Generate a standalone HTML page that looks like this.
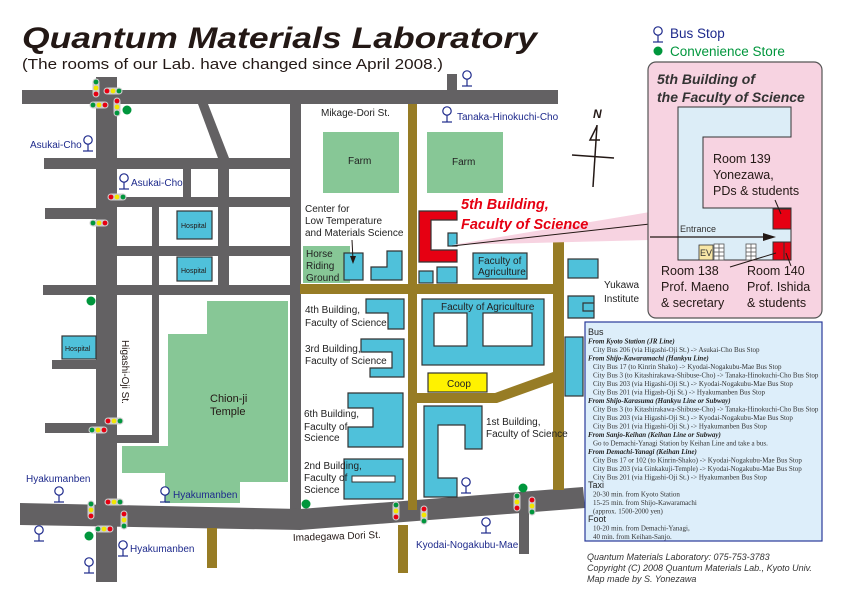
<!DOCTYPE html>
<html><head><meta charset="utf-8"><style>
html,body{margin:0;padding:0;background:#fff}
svg{display:block}
text{font-family:"Liberation Sans",sans-serif}
.s{font-family:"Liberation Serif",serif;font-size:7px;fill:#333}
.si{font-family:"Liberation Serif",serif;font-size:7px;font-style:italic;font-weight:bold;fill:#222}
.l{font-size:10px;fill:#222}
.b{fill:#4fc1da;stroke:#333;stroke-width:1.2}
.bl{fill:#1e2a8c;font-size:10px}
</style></head><body>
<svg width="841" height="602" viewBox="0 0 841 602" xmlns="http://www.w3.org/2000/svg">
<defs>
<g id="bs"><circle cx="0" cy="0" r="4.2" fill="#fff" stroke="#1e2a8c" stroke-width="1.2"/><line x1="0" y1="4" x2="0" y2="11" stroke="#1e2a8c" stroke-width="1.2"/><line x1="-5" y1="11" x2="5" y2="11" stroke="#1e2a8c" stroke-width="1.2"/></g>
<g id="hR"><rect x="-3.5" y="-3.5" width="19" height="7" rx="3.5" fill="#ccc"/><circle cx="0" cy="0" r="2.4" fill="#e60012"/><circle cx="6" cy="0" r="2.4" fill="#f2e600"/><circle cx="12" cy="0" r="2.4" fill="#00963c"/></g>
<g id="hG"><rect x="-3.5" y="-3.5" width="19" height="7" rx="3.5" fill="#ccc"/><circle cx="0" cy="0" r="2.4" fill="#00963c"/><circle cx="6" cy="0" r="2.4" fill="#f2e600"/><circle cx="12" cy="0" r="2.4" fill="#e60012"/></g>
<g id="vG"><rect x="-3.5" y="-3.5" width="7" height="19" rx="3.5" fill="#ccc"/><circle cx="0" cy="0" r="2.4" fill="#00963c"/><circle cx="0" cy="6" r="2.4" fill="#f2e600"/><circle cx="0" cy="12" r="2.4" fill="#e60012"/></g>
<g id="vR"><rect x="-3.5" y="-3.5" width="7" height="19" rx="3.5" fill="#ccc"/><circle cx="0" cy="0" r="2.4" fill="#e60012"/><circle cx="0" cy="6" r="2.4" fill="#f2e600"/><circle cx="0" cy="12" r="2.4" fill="#00963c"/></g>
</defs>

<!-- title -->
<text x="22" y="48" font-size="30" font-weight="bold" font-style="italic" fill="#231815" textLength="515" lengthAdjust="spacingAndGlyphs">Quantum Materials Laboratory</text>
<text x="22" y="69" font-size="14.5" fill="#231815" textLength="421" lengthAdjust="spacingAndGlyphs">(The rooms of our Lab. have changed since April 2008.)</text>

<!-- legend -->
<use href="#bs" x="658" y="31"/>
<text x="670" y="38" font-size="13.5" fill="#1e2a8c">Bus Stop</text>
<circle cx="658" cy="51" r="4.5" fill="#00963c"/>
<text x="670" y="56" font-size="13.5" fill="#00963c">Convenience Store</text>

<!-- green areas -->
<g fill="#87c796">
<rect x="323" y="132" width="76" height="61"/>
<rect x="427" y="132" width="76" height="61"/>
<rect x="303" y="246" width="47" height="37"/>
<polygon points="207,301 288,301 288,482 240,482 240,503 165,503 165,473 122,473 122,446 168,446 168,334 207,334"/>
</g>

<!-- gray roads -->
<g fill="#636163">
<rect x="22" y="90" width="536" height="14"/>
<rect x="447" y="74" width="10" height="17"/>
<rect x="96" y="77" width="21" height="505"/>
<rect x="290" y="91" width="11" height="420"/>
<rect x="44" y="158" width="256" height="11"/>
<rect x="45" y="208" width="52" height="11"/>
<rect x="117" y="197" width="173" height="10"/>
<rect x="117" y="246" width="173" height="10"/>
<rect x="43" y="285" width="247" height="10"/>
<rect x="152" y="197" width="7" height="246"/>
<rect x="117" y="435" width="42" height="8"/>
<rect x="183" y="169" width="8" height="28"/>
<polygon points="198,104 208,104 229,158 218,158"/>
<rect x="218" y="158" width="11" height="137"/>
<rect x="52" y="360" width="45" height="9"/>
<rect x="45" y="423" width="52" height="10"/>
<polygon points="20,503 300,509 583,487 585,508 300,530 20,525"/>
<rect x="519" y="495" width="10" height="59"/>
</g>

<!-- brown roads -->
<g fill="#977c25">
<rect x="408" y="104" width="9" height="406"/>
<rect x="398" y="525" width="10" height="48"/>
<rect x="300" y="284" width="264" height="10"/>
<polygon points="553,240 564,236 564,490 553,490"/>
<polygon points="417,393 495,393 553,372 553,383 497,403 417,403"/>
<rect x="207" y="528" width="10" height="40"/>
</g>

<!-- buildings -->
<rect class="b" x="177" y="211" width="35" height="28"/>
<rect class="b" x="177" y="257" width="35" height="24"/>
<rect class="b" x="62" y="336" width="34" height="23"/>
<rect class="b" x="344" y="253" width="19" height="27"/>
<polygon class="b" points="371,267 387,267 387,251 402,251 402,280 371,280"/>
<polygon points="419,211 457,211 457,220 431,220 431,250 457,250 457,262 419,262" fill="#e60012" stroke="#333" stroke-width="1.2"/>
<rect class="b" x="448" y="233" width="9" height="13"/>
<rect class="b" x="419" y="271" width="14" height="12"/>
<rect class="b" x="437" y="267" width="20" height="16"/>
<rect class="b" x="473" y="253" width="54" height="26"/>
<polygon class="b" points="366,299 404,299 404,329 388,329 388,313 366,313"/>
<polygon class="b" points="361,339 404,339 404,377 370,377 370,368 392,368 392,352 361,352"/>
<rect class="b" x="422" y="299" width="122" height="66"/>
<rect x="434" y="313" width="33" height="33" fill="#fff" stroke="#333" stroke-width="1.2"/>
<rect x="483" y="313" width="49" height="33" fill="#fff" stroke="#333" stroke-width="1.2"/>
<rect x="428" y="373" width="59" height="19" fill="#fff200" stroke="#333" stroke-width="1.2"/>
<polygon class="b" points="348,393 403,393 403,447 348,447 348,427 373,427 373,408 348,408"/>
<rect class="b" x="344" y="459" width="59" height="40"/>
<rect x="352" y="476" width="43" height="6" fill="#fff" stroke="#333" stroke-width="1"/>
<polygon class="b" points="424,406 482,406 482,449 465,449 465,425 438,425 438,478 457,478 457,497 424,497"/>
<rect class="b" x="568" y="259" width="30" height="19"/>
<polygon class="b" points="568,296 594,296 594,311 583,311 583,303 583,303 594,303 594,318 568,318"/>
<rect class="b" x="565" y="337" width="18" height="59"/>

<!-- callout wedge -->
<polygon points="452,245 650,212 650,240" fill="#f7d3e1"/>
<line x1="452" y1="246" x2="650" y2="224" stroke="#231815" stroke-width="1"/>

<!-- pink box -->
<rect x="648" y="62" width="174" height="256" rx="8" fill="#f7d3e1" stroke="#555" stroke-width="1.2"/>
<text x="657" y="84" font-size="14" font-weight="bold" font-style="italic" fill="#333">5th Building of</text>
<text x="657" y="102" font-size="14" font-weight="bold" font-style="italic" fill="#333">the Faculty of Science</text>
<polygon points="678,107 791,107 791,137 703,137 703,208 791,208 791,260 678,260" fill="#dcedf7" stroke="#333" stroke-width="1"/>
<rect x="773" y="209" width="18" height="20" fill="#e60012" stroke="#333"/>
<rect x="773" y="242" width="18" height="18" fill="#e60012" stroke="#333"/>
<line x1="784" y1="242" x2="784" y2="260" stroke="#333"/>
<rect x="699" y="245" width="14" height="15" fill="#f7e6a6" stroke="#333" stroke-width="0.8"/>
<text x="700" y="256" font-size="9" fill="#333">EV</text>
<g stroke="#555" stroke-width="0.8" fill="#fff">
<rect x="714" y="244" width="10" height="16"/><line x1="714" y1="248" x2="724" y2="248"/><line x1="714" y1="252" x2="724" y2="252"/><line x1="714" y1="256" x2="724" y2="256"/><line x1="719" y1="244" x2="719" y2="260"/>
<rect x="746" y="244" width="10" height="16"/><line x1="746" y1="248" x2="756" y2="248"/><line x1="746" y1="252" x2="756" y2="252"/><line x1="746" y1="256" x2="756" y2="256"/><line x1="751" y1="244" x2="751" y2="260"/>
</g>
<line x1="650" y1="237" x2="765" y2="237" stroke="#231815" stroke-width="1.2"/>
<polygon points="776,237 763,233 763,241" fill="#231815"/>
<text x="680" y="232" font-size="9" fill="#333">Entrance</text>
<text x="713" y="163" font-size="12.5" fill="#231815">Room 139</text>
<text x="713" y="179" font-size="12.5" fill="#231815">Yonezawa,</text>
<text x="713" y="195" font-size="12.5" fill="#231815">PDs &amp; students</text>
<text x="661" y="275" font-size="12.5" fill="#231815">Room 138</text>
<text x="661" y="291" font-size="12.5" fill="#231815">Prof. Maeno</text>
<text x="661" y="307" font-size="12.5" fill="#231815">&amp; secretary</text>
<text x="747" y="275" font-size="12.5" fill="#231815">Room 140</text>
<text x="747" y="291" font-size="12.5" fill="#231815">Prof. Ishida</text>
<text x="747" y="307" font-size="12.5" fill="#231815">&amp; students</text>
<g stroke="#231815" stroke-width="1">
<line x1="775" y1="200" x2="781" y2="214"/><line x1="730" y1="267" x2="776" y2="253"/><line x1="791" y1="266" x2="786" y2="253"/>
</g>

<!-- info box -->
<rect x="585" y="322" width="237" height="219" fill="#ddeefa" stroke="#2a3a9a" stroke-width="1.2"/>
<text x="588" y="335" font-size="9" fill="#222">Bus</text>
<text class="si" x="588" y="343.5">From Kyoto Station (JR Line)</text>
<text class="s" x="593" y="352">City Bus 206 (via Higashi-Oji St.) -&gt; Asukai-Cho Bus Stop</text>
<text class="si" x="588" y="360.5">From Shijo-Kawaramachi (Hankyu Line)</text>
<text class="s" x="593" y="369">City Bus 17 (to Kinrin Shako) -&gt; Kyodai-Nogakubu-Mae Bus Stop</text>
<text class="s" x="593" y="377.5">City Bus 3 (to Kitashirakawa-Shibuse-Cho) -&gt; Tanaka-Hinokuchi-Cho Bus Stop</text>
<text class="s" x="593" y="386">City Bus 203 (via Higashi-Oji St.) -&gt; Kyodai-Nogakubu-Mae Bus Stop</text>
<text class="s" x="593" y="394.5">City Bus 201 (via Higash-Oji St.) -&gt; Hyakumanben Bus Stop</text>
<text class="si" x="588" y="403">From Shijo-Karasuma (Hankyu Line or Subway)</text>
<text class="s" x="593" y="411.5">City Bus 3 (to Kitashirakawa-Shibuse-Cho) -&gt; Tanaka-Hinokuchi-Cho Bus Stop</text>
<text class="s" x="593" y="420">City Bus 203 (via Higashi-Oji St.) -&gt; Kyodai-Nogakubu-Mae Bus Stop</text>
<text class="s" x="593" y="428.5">City Bus 201 (via Higashi-Oji St.) -&gt; Hyakumanben Bus Stop</text>
<text class="si" x="588" y="437">From Sanjo-Keihan (Keihan Line or Subway)</text>
<text class="s" x="593" y="445.5">Go to Demachi-Yanagi Station by Keihan Line and take a bus.</text>
<text class="si" x="588" y="454">From Demachi-Yanagi (Keihan Line)</text>
<text class="s" x="593" y="462.5">City Bus 17 or 102 (to Kinrin-Shako) -&gt; Kyodai-Nogakubu-Mae Bus Stop</text>
<text class="s" x="593" y="471">City Bus 203 (via Ginkakuji-Temple) -&gt; Kyodai-Nogakubu-Mae Bus Stop</text>
<text class="s" x="593" y="479.5">City Bus 201 (via Higashi-Oji St.) -&gt; Hyakumanben Bus Stop</text>
<text x="588" y="488" font-size="9" fill="#222">Taxi</text>
<text class="s" x="593" y="496.5">20-30 min. from Kyoto Station</text>
<text class="s" x="593" y="505">15-25 min. from Shijo-Kawaramachi</text>
<text class="s" x="593" y="513.5">(approx. 1500-2000 yen)</text>
<text x="588" y="522" font-size="9" fill="#222">Foot</text>
<text class="s" x="593" y="530.5">10-20 min. from Demachi-Yanagi,</text>
<text class="s" x="593" y="539">40 min. from Keihan-Sanjo.</text>

<g font-size="9" font-style="italic" fill="#333">
<text x="587" y="560">Quantum Materials Laboratory: 075-753-3783</text>
<text x="587" y="571">Copyright (C) 2008 Quantum Materials Lab., Kyoto Univ.</text>
<text x="587" y="582">Map made by S. Yonezawa</text>
</g>

<!-- compass -->
<text x="593" y="118" font-size="12" font-weight="bold" font-style="italic" font-family="Liberation Serif,serif" fill="#231815">N</text>
<g stroke="#231815" stroke-width="1.5" fill="none">
<line x1="597" y1="125" x2="593" y2="187"/>
<line x1="572" y1="155" x2="614" y2="158"/>
<polyline points="597,126 590,140 600,140"/>
</g>

<!-- labels -->
<text x="461" y="209" font-size="14.5" font-weight="bold" font-style="italic" fill="#e60012">5th Building,</text>
<text x="461" y="229" font-size="14.5" font-weight="bold" font-style="italic" fill="#e60012">Faculty of Science</text>
<text class="l" x="321" y="116">Mikage-Dori St.</text>
<text class="l" x="348" y="164">Farm</text>
<text class="l" x="452" y="165">Farm</text>
<text class="l" x="305" y="212">Center for</text>
<text class="l" x="305" y="224">Low Temperature</text>
<text class="l" x="305" y="236">and Materials Science</text>
<line x1="352" y1="240" x2="353" y2="260" stroke="#231815"/>
<polygon points="353,264 350,256 356,256" fill="#231815"/>
<text class="l" x="306" y="257">Horse</text>
<text class="l" x="306" y="269">Riding</text>
<text class="l" x="306" y="281">Ground</text>
<text class="l" x="478" y="264">Faculty of</text>
<text class="l" x="478" y="275">Agriculture</text>
<text class="l" x="604" y="288">Yukawa</text>
<text class="l" x="604" y="302">Institute</text>
<text class="l" x="441" y="310">Faculty of Agriculture</text>
<text class="l" x="305" y="313">4th Building,</text>
<text class="l" x="305" y="326">Faculty of Science</text>
<text class="l" x="305" y="352">3rd Building,</text>
<text class="l" x="305" y="364">Faculty of Science</text>
<text class="l" x="447" y="387">Coop</text>
<text class="l" x="304" y="417">6th Building,</text>
<text class="l" x="304" y="430">Faculty of</text>
<text class="l" x="304" y="441">Science</text>
<text class="l" x="304" y="469">2nd Building,</text>
<text class="l" x="304" y="481">Faculty of</text>
<text class="l" x="304" y="493">Science</text>
<text class="l" x="486" y="425">1st Building,</text>
<text class="l" x="486" y="437">Faculty of Science</text>
<text x="210" y="402" font-size="11" fill="#231815">Chion-ji</text>
<text x="210" y="415" font-size="11" fill="#231815">Temple</text>
<text x="0" y="0" font-size="10" fill="#231815" transform="translate(122,340) rotate(90)">Higashi-Oji St.</text>
<text x="0" y="0" font-size="10" fill="#231815" transform="translate(293,541) rotate(-2)">Imadegawa Dori St.</text>
<g font-size="7" fill="#231815"><text x="181" y="228">Hospital</text><text x="181" y="273">Hospital</text><text x="65" y="351">Hospital</text></g>

<!-- bus stops -->
<use href="#bs" x="467" y="75"/>
<use href="#bs" x="447" y="111"/><text class="bl" x="457" y="120">Tanaka-Hinokuchi-Cho</text>
<use href="#bs" x="88" y="140"/><text class="bl" x="30" y="148">Asukai-Cho</text>
<use href="#bs" x="124" y="178"/><text class="bl" x="131" y="186">Asukai-Cho</text>
<use href="#bs" x="59" y="491"/><text class="bl" x="26" y="482">Hyakumanben</text>
<use href="#bs" x="39" y="530"/>
<use href="#bs" x="89" y="562"/>
<use href="#bs" x="123" y="545"/><text class="bl" x="130" y="552">Hyakumanben</text>
<use href="#bs" x="165" y="491"/><text class="bl" x="173" y="498">Hyakumanben</text>
<use href="#bs" x="466" y="482"/>
<use href="#bs" x="486" y="522"/><text class="bl" x="416" y="548">Kyodai-Nogakubu-Mae</text>

<!-- convenience stores -->
<g fill="#00963c">
<circle cx="127" cy="110" r="4.5"/><circle cx="91" cy="301" r="4.5"/><circle cx="89" cy="536" r="4.5"/><circle cx="306" cy="504" r="4.5"/><circle cx="523" cy="488" r="4.5"/>
</g>

<!-- traffic lights -->
<use href="#vG" x="96" y="82"/>
<use href="#hR" x="107" y="91"/>
<use href="#hG" x="93" y="105"/>
<use href="#vR" x="117" y="101"/>
<use href="#hR" x="111" y="197"/>
<use href="#hG" x="93" y="223"/>
<use href="#hR" x="108" y="421"/>
<use href="#hG" x="92" y="430"/>
<use href="#hR" x="108" y="502"/>
<use href="#vG" x="91" y="504"/>
<use href="#vR" x="124" y="514"/>
<use href="#hG" x="98" y="529"/>
<use href="#vG" x="396" y="505"/>
<use href="#vR" x="424" y="509"/>
<use href="#vG" x="517" y="496"/>
<use href="#vR" x="532" y="500"/>
</svg>
</body></html>
